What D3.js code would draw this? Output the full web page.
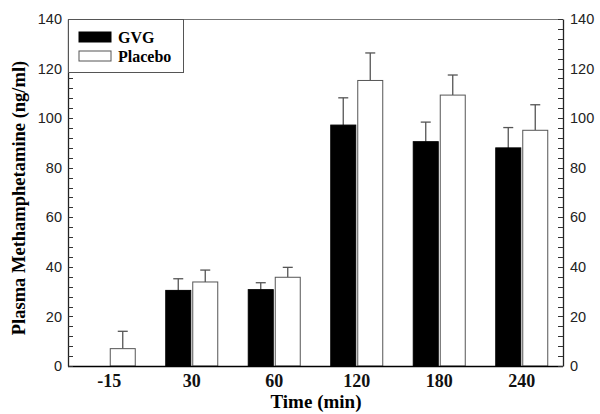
<!DOCTYPE html>
<html><head><meta charset="utf-8">
<script src="https://cdn.jsdelivr.net/npm/d3@7"></script>
<style>body{margin:0;background:#fff}</style>
</head><body><svg id="c" width="600" height="414"></svg>
<script>
const categories = ["-15","30","60","120","180","240"];
const series = ["GVG","Placebo"];
const gvgMean = [null, 30.5, 30.8, 97.2, 90.5, 88.0];
const gvgSem  = [null, 4.7, 2.8, 11.0, 7.9, 8.2];
const plaMean = [7.0, 33.9, 35.8, 115.2, 109.3, 95.1];
const plaSem  = [7.0, 4.8, 4.0, 11.1, 8.1, 10.3];
const yTicks = [0,20,40,60,80,100,120,140];

const svg = d3.select("#c");
const m = {l:68, r:563, t:19, b:366};
const x = d3.scaleBand().domain(categories).range([m.l, m.r]).padding(0);
const y = d3.scaleLinear().domain([0,140]).range([m.b, m.t]);
const bw = 25, gap = 2;

const data = [];
categories.forEach((c,i)=>{
  if (gvgMean[i]!=null) data.push({c, s:"GVG", v:gvgMean[i], e:gvgSem[i], off:-gap/2-bw});
  if (plaMean[i]!=null) data.push({c, s:"Placebo", v:plaMean[i], e:plaSem[i], off:gap/2});
});
const cx = d => x(d.c) + x.bandwidth()/2 + d.off;

const eg = svg.append("g").attr("stroke","#555").attr("stroke-width",1.3);
data.forEach(d=>{
  const xc = cx(d)+bw/2;
  eg.append("line").attr("x1",xc).attr("x2",xc).attr("y1",y(d.v)).attr("y2",y(d.v+d.e));
  eg.append("line").attr("x1",xc-5).attr("x2",xc+5).attr("y1",y(d.v+d.e)).attr("y2",y(d.v+d.e));
});

svg.append("g").selectAll("rect").data(data).join("rect")
  .attr("x",cx).attr("width",bw)
  .attr("y",d=>y(d.v)).attr("height",d=>y(0)-y(d.v))
  .attr("fill",d=>d.s==="GVG"?"#000":"#fff")
  .attr("stroke",d=>d.s==="GVG"?"#000":"#555").attr("stroke-width",1);

svg.append("line").attr("x1",m.l).attr("x2",m.r).attr("y1",m.t+0.5).attr("y2",m.t+0.5).attr("stroke","#777");
svg.append("line").attr("x1",m.l).attr("x2",m.r).attr("y1",m.b+0.5).attr("y2",m.b+0.5).attr("stroke","#000").attr("stroke-width",1.3);

const minor = d3.range(0,141,4);
const left = d3.axisLeft(y).tickValues(yTicks).tickSize(0).tickPadding(6);
const right = d3.axisRight(y).tickValues(yTicks).tickSize(0).tickPadding(7);
const gl = svg.append("g").attr("transform",`translate(${m.l},0)`).call(left);
const gr = svg.append("g").attr("transform",`translate(${m.r},0)`).call(right);
[gl,gr].forEach(g=>{
  g.select(".domain").attr("stroke","#222").attr("stroke-width",1.3);
  g.selectAll("text").attr("font-family","Liberation Sans, Arial, sans-serif").attr("font-size",14.5).attr("fill","#222");
});
svg.append("g").selectAll("line").data(minor).join("line")
  .attr("x1",m.l).attr("x2",m.l+5).attr("y1",d=>Math.round(y(d))+0.5).attr("y2",d=>Math.round(y(d))+0.5).attr("stroke","#333");
svg.append("g").selectAll("line").data(minor).join("line")
  .attr("x1",m.r-5).attr("x2",m.r).attr("y1",d=>Math.round(y(d))+0.5).attr("y2",d=>Math.round(y(d))+0.5).attr("stroke","#333");

const bottom = d3.axisBottom(x).tickSize(0).tickPadding(8);
const gb = svg.append("g").attr("transform",`translate(0,${m.b})`).call(bottom);
gb.select(".domain").remove();
gb.selectAll("text").attr("font-family","Liberation Serif, Times New Roman, serif").attr("font-weight","bold").attr("font-size",18).attr("fill","#111");

svg.append("text").attr("x",316).attr("y",408).attr("text-anchor","middle")
  .attr("font-family","Liberation Serif, serif").attr("font-weight","bold").attr("font-size",19).text("Time (min)");
svg.append("text").attr("transform","translate(25,198) rotate(-90)").attr("text-anchor","middle")
  .attr("font-family","Liberation Serif, serif").attr("font-weight","bold").attr("font-size",18.5).text("Plasma Methamphetamine (ng/ml)");

const lg = svg.append("g");
lg.append("rect").attr("x",m.l+0.5).attr("y",m.t+0.5).attr("width",115).attr("height",53).attr("fill","#fff").attr("stroke","#555");
series.forEach((s,i)=>{
  const yy = 32 + i*19;
  lg.append("rect").attr("x",79).attr("y",yy).attr("width",32).attr("height",10)
    .attr("fill",i===0?"#000":"#fff").attr("stroke",i===0?"#000":"#555");
  lg.append("text").attr("x",118).attr("y",yy+10.5).attr("font-family","Liberation Serif, serif")
    .attr("font-weight","bold").attr("font-size",16).text(s);
});
</script></body></html>
